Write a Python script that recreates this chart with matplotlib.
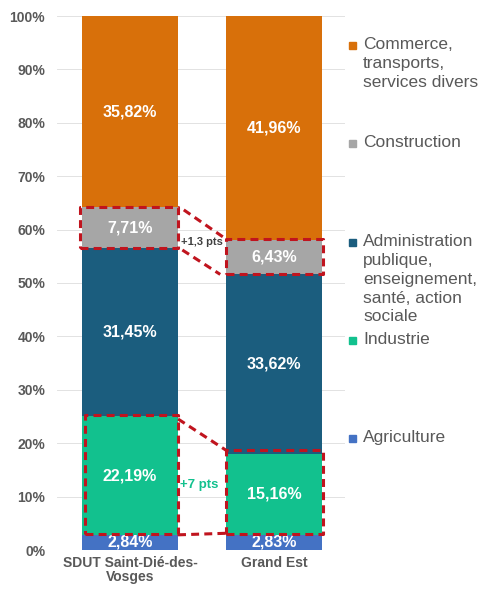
import matplotlib
matplotlib.use("Agg")
import matplotlib.pyplot as plt
from matplotlib.patches import Rectangle
import numpy as np

plt.rcParams['font.family'] = ['Liberation Sans', 'DejaVu Sans']

categories = ["SDUT Saint-Dié-des-\nVosges", "Grand Est"]
sectors = ["Agriculture", "Industrie",
           "Administration\npublique,\nenseignement,\nsanté, action\nsociale",
           "Construction", "Commerce,\ntransports,\nservices divers"]
agriculture = [2.84, 2.83]
industrie = [22.19, 15.16]
administration = [31.45, 33.62]
construction = [7.71, 6.43]
commerce = [35.82, 41.96]
labels = [["2,84%", "2,83%"], ["22,19%", "15,16%"], ["31,45%", "33,62%"],
          ["7,71%", "6,43%"], ["35,82%", "41,96%"]]
colors = ["#4472C4", "#12C18E", "#1B5D7E", "#A6A6A6", "#D8700A"]
yticks = [0, 10, 20, 30, 40, 50, 60, 70, 80, 90, 100]
ann_construction = "+1,3 pts"
ann_industrie = "+7 pts"

series = [agriculture, industrie, administration, construction, commerce]

W, H = 483, 589
fig = plt.figure(figsize=(W / 100, H / 100), dpi=100)
ax = fig.add_axes([57 / W, (H - 550) / H, 288 / W, 534 / H])

x = np.arange(len(categories))
bw = 0.667
bottom = np.zeros(len(categories))
bottoms = []
for vals, col, lab in zip(series, colors, labels):
    vals = np.array(vals)
    ax.bar(x, vals, bw, bottom=bottom, color=col, zorder=2)
    for i in range(len(x)):
        ax.text(x[i], bottom[i] + vals[i] / 2, lab[i], ha='center', va='center',
                color='white', fontsize=11.5, fontweight='bold', zorder=4)
    bottoms.append(bottom.copy())
    bottom = bottom + vals

ax.set_xlim(-0.507, 1.493)
ax.set_ylim(0, 100)
ax.set_yticks(yticks)
ax.set_yticklabels([f"{t}%" for t in yticks])
ax.set_xticks(x)
ax.set_xticklabels(categories, linespacing=1.05)
ax.grid(axis='y', color='#E2E2E2', linewidth=0.7, zorder=0)
for s in ax.spines.values():
    s.set_visible(False)
ax.tick_params(axis='both', length=0, colors='#595959', labelsize=10)
ax.tick_params(axis='y', pad=8.5)
ax.tick_params(axis='x', pad=4)
for t in ax.get_xticklabels() + ax.get_yticklabels():
    t.set_fontweight('bold')
    t.set_color('#595959')

red = '#C0141E'
dash = dict(color=red, linewidth=2.2, linestyle=(0, (2.6, 1.7)), zorder=5)

def box(x0, x1, y0, y1):
    ax.plot([x0, x1, x1, x0, x0], [y0, y0, y1, y1, y0], **dash)

# Construction boxes
lb0 = bottoms[3][0]; lt0 = lb0 + construction[0]
rb0 = bottoms[3][1]; rt0 = rb0 + construction[1]
box(-0.35, bw / 2, lb0, lt0)
box(1 - bw / 2, 1 + bw / 2 + 0.01, rb0, rt0 + 0.2)
ax.plot([bw / 2 + 0.04, 1 - bw / 2], [lt0 - 0.5, rt0 + 0.2], **dash)
ax.plot([bw / 2 + 0.03, 1 - bw / 2 - 0.04], [lb0 - 0.3, rb0], **dash)

# Industrie boxes
lb1 = bottoms[1][0]; lt1 = lb1 + industrie[0]
rb1 = bottoms[1][1]; rt1 = rb1 + industrie[1]
box(-bw / 2 + 0.02, bw / 2, lb1 + 0.2, lt1 + 0.2)
box(1 - bw / 2, 1 + bw / 2 + 0.01, rb1 + 0.2, rt1 + 0.7)
ax.plot([bw / 2, 1 - bw / 2], [lt1 - 0.5, rt1 + 0.7], **dash)
ax.plot([bw / 2, 1 - bw / 2], [lb1 + 0.0, rb1 + 0.3], **dash)

ax.text(0.5, 57.6, ann_construction, ha='center', va='center', fontsize=8,
        fontweight='bold', color='#404040', zorder=6)
ax.text(0.48, 12.2, ann_industrie, ha='center', va='center', fontsize=9.5,
        fontweight='bold', color='#12C18E', zorder=6)

# Legend (manual, top to bottom)
legend_y = [45, 143, 242, 340, 438]
for name, col, yy in zip(sectors[::-1], colors[::-1], legend_y):
    fig.patches.append(Rectangle(((352 - 3.5) / W, (H - yy - 3.5) / H), 7 / W, 7 / H,
                                 transform=fig.transFigure, color=col, figure=fig))
    fig.text(363 / W, (H - yy + 8) / H, name, ha='left', va='top', fontsize=12.5,
             color='#595959', linespacing=1.32)

fig.savefig("out.png", dpi=100)
